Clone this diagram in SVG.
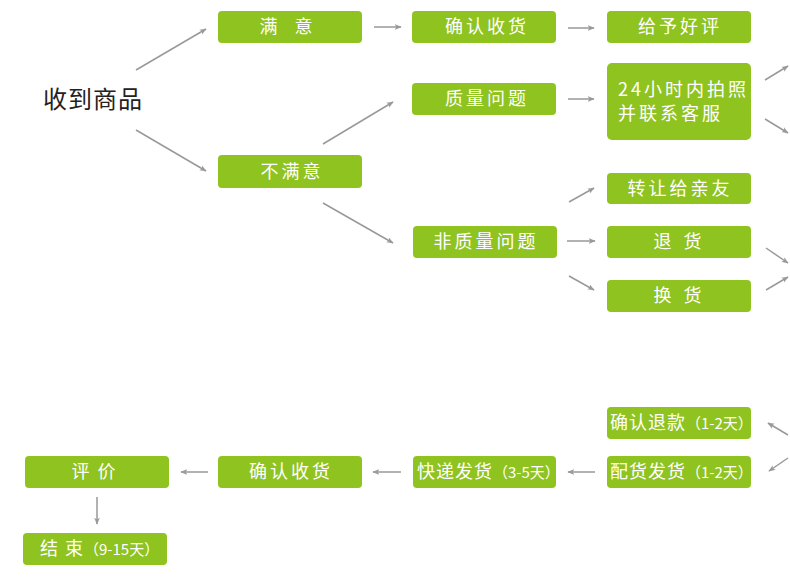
<svg xmlns="http://www.w3.org/2000/svg" width="790" height="582" viewBox="0 0 790 582">
<style>
.box{fill:#8fc31f}
.t{fill:#fff;font-family:"Noto Sans CJK SC","Noto Sans",sans-serif;font-size:18px;text-anchor:middle;letter-spacing:3px}
.ts{fill:#fff;font-family:"Noto Sans CJK SC","Noto Sans",sans-serif;font-size:18px;text-anchor:start;letter-spacing:1px}
.s{font-size:15px;letter-spacing:0px}
.c{stroke:#999;stroke-width:1.5;fill:none;marker-end:url(#ah)}
.title{fill:#222;font-family:"Noto Sans CJK SC","Noto Sans",sans-serif;font-size:24px;letter-spacing:1px}
</style>
<defs>
<marker id="ah" viewBox="0 0 10 8" refX="9" refY="4" markerWidth="7" markerHeight="6" orient="auto" markerUnits="userSpaceOnUse">
<path d="M0,0 L10,4 L0,8 L2.5,4 z" fill="#999"/>
</marker>
</defs>
<rect width="790" height="582" fill="#fff"/>
<g id="n-start"><text class="title" x="43" y="108">收到商品</text></g>
<g id="n-satisfied"><rect class="box" x="218" y="11" width="144" height="32" rx="4"/><text class="t" y="33"><tspan x="270">满</tspan><tspan x="305">意</tspan></text></g>
<g id="n-confirm1"><rect class="box" x="412" y="11" width="144" height="32" rx="4"/><text class="t" x="487" y="33">确认收货</text></g>
<g id="n-praise"><rect class="box" x="607" y="11" width="144" height="32" rx="4"/><text class="t" x="680" y="33">给予好评</text></g>
<g id="n-unsatisfied"><rect class="box" x="218" y="155" width="144" height="33" rx="4"/><text class="t" x="292" y="178">不满意</text></g>
<g id="n-quality"><rect class="box" x="412" y="83" width="144" height="32" rx="4"/><text class="t" x="487" y="105">质量问题</text></g>
<g id="n-photo"><rect class="box" x="607" y="63" width="144" height="77" rx="5"/><text class="ts" x="618" y="96" style="letter-spacing:3px">24小时内拍照</text><text class="ts" x="618" y="120" style="letter-spacing:3px">并联系客服</text></g>
<g id="n-nonquality"><rect class="box" x="413" y="226" width="144" height="32" rx="4"/><text class="t" x="486" y="248">非质量问题</text></g>
<g id="n-gift"><rect class="box" x="607" y="173" width="144" height="31" rx="4"/><text class="t" x="680" y="195">转让给亲友</text></g>
<g id="n-return"><rect class="box" x="607" y="226" width="144" height="32" rx="4"/><text class="t" y="248"><tspan x="664">退</tspan><tspan x="694">货</tspan></text></g>
<g id="n-exchange"><rect class="box" x="607" y="280" width="144" height="32" rx="4"/><text class="t" y="302"><tspan x="664">换</tspan><tspan x="694">货</tspan></text></g>
<g id="n-refund"><rect class="box" x="607" y="407" width="144" height="32" rx="4"/><text class="ts" x="610" y="429">确认退款<tspan class="s">（1-2天）</tspan></text></g>
<g id="n-ship"><rect class="box" x="607" y="456" width="144" height="32" rx="4"/><text class="ts" x="610" y="478">配货发货<tspan class="s">（1-2天）</tspan></text></g>
<g id="n-express"><rect class="box" x="413" y="456" width="143" height="32" rx="4"/><text class="ts" x="417" y="478">快递发货<tspan class="s">（3-5天）</tspan></text></g>
<g id="n-confirm2"><rect class="box" x="218" y="456" width="144" height="32" rx="4"/><text class="t" x="291" y="478">确认收货</text></g>
<g id="n-review"><rect class="box" x="25" y="456" width="144" height="32" rx="4"/><text class="t" y="478"><tspan x="82">评</tspan><tspan x="108">价</tspan></text></g>
<g id="n-end"><rect class="box" x="23" y="533" width="144" height="32" rx="4"/><text class="ts" y="555"><tspan x="40">结</tspan><tspan x="65">束</tspan><tspan class="s" x="84">（9-15天）</tspan></text></g>
<g id="connectors">
<line class="c" x1="136" y1="70" x2="206" y2="29"/>
<line class="c" x1="136" y1="130" x2="206" y2="171"/>
<line class="c" x1="374" y1="27" x2="401" y2="27"/>
<line class="c" x1="568" y1="28" x2="594" y2="28"/>
<line class="c" x1="323" y1="144" x2="393" y2="102"/>
<line class="c" x1="568" y1="99" x2="594" y2="99"/>
<line class="c" x1="765" y1="80" x2="788" y2="66"/>
<line class="c" x1="765" y1="119" x2="788" y2="133"/>
<line class="c" x1="323" y1="203" x2="393" y2="243"/>
<line class="c" x1="569" y1="202" x2="594" y2="188"/>
<line class="c" x1="567" y1="241" x2="595" y2="241"/>
<line class="c" x1="569" y1="276" x2="594" y2="290"/>
<line class="c" x1="766" y1="248" x2="788" y2="263"/>
<line class="c" x1="766" y1="290" x2="788" y2="277"/>
<line class="c" x1="788" y1="435" x2="768" y2="423"/>
<line class="c" x1="788" y1="458" x2="769" y2="471"/>
<line class="c" x1="595" y1="472" x2="568" y2="472"/>
<line class="c" x1="401" y1="472" x2="373" y2="472"/>
<line class="c" x1="208" y1="472" x2="181" y2="472"/>
<line class="c" x1="97" y1="497" x2="97" y2="524"/>
</g>
</svg>
